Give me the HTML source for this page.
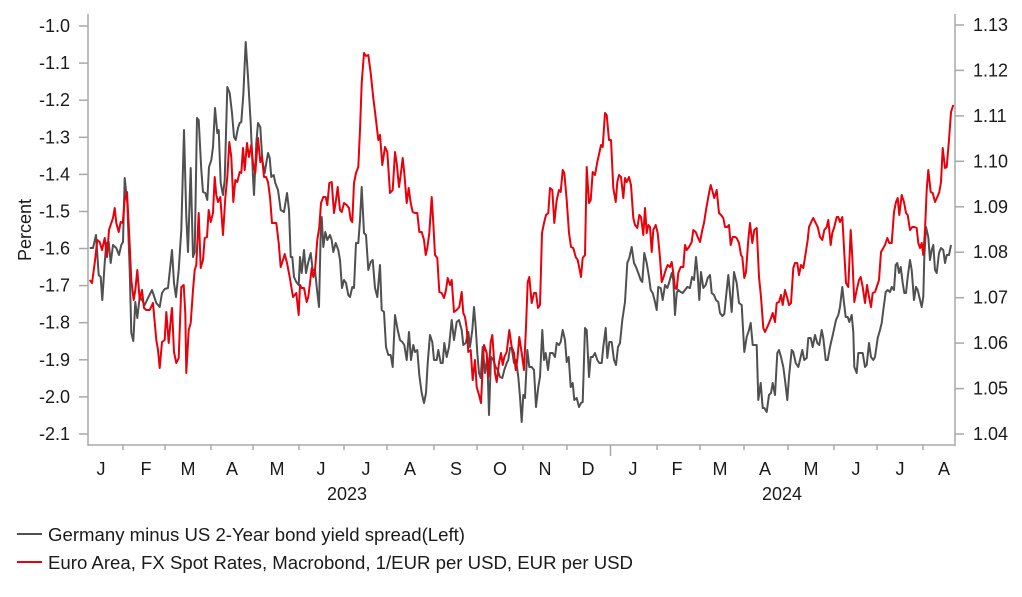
<!DOCTYPE html>
<html><head><meta charset="utf-8"><style>
html,body{margin:0;padding:0;background:#fff;}
svg{display:block;font-family:"Liberation Sans",Arial,sans-serif;}
</style></head><body>
<svg width="1022" height="597" viewBox="0 0 1022 597" xmlns="http://www.w3.org/2000/svg">
<rect width="1022" height="597" fill="#fff"/>
<!-- axes -->
<g stroke="#a8a8a8" stroke-width="1.5" fill="none">
<line x1="88" y1="14" x2="88" y2="446"/>
<line x1="955" y1="14" x2="955" y2="446"/>
<line x1="88" y1="445" x2="955" y2="445"/>
<!-- left ticks -->
<line x1="79" y1="26" x2="88" y2="26"/><line x1="79" y1="63.1" x2="88" y2="63.1"/><line x1="79" y1="100.2" x2="88" y2="100.2"/><line x1="79" y1="137.3" x2="88" y2="137.3"/><line x1="79" y1="174.4" x2="88" y2="174.4"/><line x1="79" y1="211.5" x2="88" y2="211.5"/><line x1="79" y1="248.5" x2="88" y2="248.5"/><line x1="79" y1="285.6" x2="88" y2="285.6"/><line x1="79" y1="322.7" x2="88" y2="322.7"/><line x1="79" y1="359.8" x2="88" y2="359.8"/><line x1="79" y1="396.9" x2="88" y2="396.9"/><line x1="79" y1="434" x2="88" y2="434"/>
<!-- right ticks -->
<line x1="955" y1="25" x2="964" y2="25"/><line x1="955" y1="70.4" x2="964" y2="70.4"/><line x1="955" y1="115.9" x2="964" y2="115.9"/><line x1="955" y1="161.3" x2="964" y2="161.3"/><line x1="955" y1="206.8" x2="964" y2="206.8"/><line x1="955" y1="252.2" x2="964" y2="252.2"/><line x1="955" y1="297.7" x2="964" y2="297.7"/><line x1="955" y1="343.1" x2="964" y2="343.1"/><line x1="955" y1="388.6" x2="964" y2="388.6"/><line x1="955" y1="434" x2="964" y2="434"/>
<!-- x ticks -->
<line x1="123" y1="445" x2="123" y2="450"/><line x1="165" y1="445" x2="165" y2="450"/><line x1="211" y1="445" x2="211" y2="450"/><line x1="253" y1="445" x2="253" y2="450"/><line x1="299" y1="445" x2="299" y2="450"/><line x1="344" y1="445" x2="344" y2="450"/><line x1="387" y1="445" x2="387" y2="450"/><line x1="434" y1="445" x2="434" y2="450"/><line x1="477" y1="445" x2="477" y2="450"/><line x1="523" y1="445" x2="523" y2="450"/><line x1="567" y1="445" x2="567" y2="450"/><line x1="610.5" y1="445" x2="610.5" y2="456"/><line x1="657" y1="445" x2="657" y2="450"/><line x1="700" y1="445" x2="700" y2="450"/><line x1="744" y1="445" x2="744" y2="450"/><line x1="788" y1="445" x2="788" y2="450"/><line x1="834" y1="445" x2="834" y2="450"/><line x1="877" y1="445" x2="877" y2="450"/><line x1="923" y1="445" x2="923" y2="450"/>
</g>
<!-- left labels -->
<g font-size="18" fill="#1a1a1a" text-anchor="end">
<text x="70" y="32">-1.0</text><text x="70" y="69.1">-1.1</text><text x="70" y="106.2">-1.2</text><text x="70" y="143.3">-1.3</text><text x="70" y="180.4">-1.4</text><text x="70" y="217.5">-1.5</text><text x="70" y="254.5">-1.6</text><text x="70" y="291.6">-1.7</text><text x="70" y="328.7">-1.8</text><text x="70" y="365.8">-1.9</text><text x="70" y="402.9">-2.0</text><text x="70" y="440">-2.1</text>
</g>
<!-- right labels -->
<g font-size="18" fill="#1a1a1a">
<text x="973" y="31">1.13</text><text x="973" y="76.4">1.12</text><text x="973" y="121.9">1.11</text><text x="973" y="167.3">1.10</text><text x="973" y="212.8">1.09</text><text x="973" y="258.2">1.08</text><text x="973" y="303.7">1.07</text><text x="973" y="349.1">1.06</text><text x="973" y="394.6">1.05</text><text x="973" y="440">1.04</text>
</g>
<text x="31" y="230" font-size="18" fill="#1a1a1a" text-anchor="middle" transform="rotate(-90 31 230)">Percent</text>
<!-- month labels -->
<g font-size="18" fill="#1a1a1a" text-anchor="middle">
<text x="101" y="475">J</text><text x="146" y="475">F</text><text x="188" y="475">M</text><text x="232" y="475">A</text><text x="277" y="475">M</text><text x="321" y="475">J</text><text x="366" y="475">J</text><text x="410" y="475">A</text><text x="456" y="475">S</text><text x="500" y="475">O</text><text x="545" y="475">N</text><text x="588" y="475">D</text><text x="633" y="475">J</text><text x="677" y="475">F</text><text x="720" y="475">M</text><text x="765" y="475">A</text><text x="811" y="475">M</text><text x="856" y="475">J</text><text x="900" y="475">J</text><text x="944" y="475">A</text>
<text x="347" y="500">2023</text><text x="782" y="500">2024</text>
</g>
<!-- series -->
<polyline fill="none" stroke="#505050" stroke-width="2" stroke-linejoin="round" points="89.7,248 93,248 96,235 98.7,275 100.7,277 102.3,300 104.7,263 106.3,243 108.7,242 110.7,263 113,245 116.3,248 119,255 121.3,245 123,242 124.7,178 127.3,203 129.7,270 131.3,333 133.3,341 135.3,302 137.3,318 139.7,297 142,300 144.7,305 148,298 152,290 156.3,303 159.7,307 162,293 164.7,289 168,288 172,250 174,283 176,297 178.7,270 181.3,230 184,130 186.3,217 188,252 190.7,168 193,257 194.7,252 197,118 198.7,120 201.3,170 203,192 205.3,193 207.3,200 209,167 211.3,160 213,147 215,108 217.3,133 218.7,130 220.7,183 223,195 224.7,180 227.3,87 229.7,93 232,113 234,137 235.7,140 238,128 239.7,123 241.3,122 243.3,95 245.7,42 248,77 250.7,123 253,177 254,195 256.3,143 258,123 260.3,127 262.3,160 264.7,173 266.3,163 268,153 269.7,158 271.3,177 273.7,175 275.3,183 278,190 280.7,210 284,212 287,193 289,210 290.7,257 292.3,257 294,277 296.3,282 298.7,285 300,257 301.7,273 304,250 306,273 308.3,262 310.7,253 312.7,270 315,270 316.7,287 319,307 320.7,233 321.7,217 323.3,247 325.3,232 327.3,240 330,235 331.7,240 333.3,252 335.7,243 338.3,250 340,260 342,288 344,280 346,283 348.3,295 350,297 352.3,287 354,288 356,243 358.3,243 360,220 361.7,187 364,233 366,235 368.3,270 370.7,262 372.7,260 375,288 377.3,297 380,265 381.7,310 384,312 386,347 388.3,355 390.7,355 392.7,367 395,315 397.7,330 400,340 402.3,342 404.3,345 406.7,360 409,332 411,360 413.3,345 415,352 417.3,350 419.3,375 421.7,393 424,403 426,393 427.7,363 430,335 432.3,342 434,360 436.7,360 438.3,350 440.7,363 442.7,363 444.3,343 446.7,357 449,347 451.7,320 454,340 456.7,322 459,320 461.7,330 463.3,345 465.7,343 468.3,332 470,347 472.3,330 474,307 475.7,327 477.3,353 479,373 480.7,378 482.7,347 485,373 487.3,358 489,415 491,357 493.3,360 495.7,367 497.7,370 500,377 502.3,378 504.3,370 506.7,363 508.3,360 510,348 511.7,348 514,363 516,360 518.3,377 520,397 521.7,422 523.3,395 525,398 527.3,350 529.3,367 531.7,367 534,370 536,407 538.3,387 540,377 542.3,330 544,360 545.7,353 548,370 550,353 552.7,353 555,357 556.7,343 559,345 560.7,342 562.7,330 565,340 566.7,362 568.7,357 570.7,387 572.7,383 574.3,400 576.7,398 579,407 581,403 582.7,402 585,328 586.7,330 589,377 590.7,357 592.7,357 595,353 597.3,360 599.3,363 601.7,363 603.3,347 605.7,328 607.3,358 609.3,342 611.7,342 614,360 616,365 618,347 620,343 622.3,320 625,302 627.3,263 629.3,258 631.7,247 634,263 636,267 638.3,273 640.7,280 642.3,282 644.3,253 646.7,263 649,277 650.7,290 652.7,293 655,302 656.7,310 658.3,287 660.7,288 662.7,300 665,285 667.3,288 669.3,282 671.7,273 673.3,280 675,315 676.7,293 678.3,290 680.7,292 682.7,293 685,290 687.3,287 690,288 692,277 694,280 696,257 697.7,275 699.3,300 701,272 703.3,288 705.7,285 707.7,278 710,275 711.7,293 714,295 716,300 718.3,302 720,313 722.3,316 724.3,314 726,297 728.3,275 730,293 731.7,312 734,272 736.7,283 739,303 741.7,305 744.3,352 746.7,337 749,330 750.7,323 752.7,345 755,345 756.7,345 758.3,400 760.7,383 762.7,408 764.3,408 766.7,412 769,395 771,393 772.7,383 775,395 777.3,353 779,350 781,357 783.3,367 785,380 787.3,400 789,377 791.7,350 793.3,352 795.7,363 798.3,367 800,360 802.3,350 804.3,360 806.7,358 808.3,338 810.7,338 812.7,347 815,335 817.3,343 819.3,345 821.7,330 823.3,338 825.7,360 827.7,360 830,347 832.3,337 834.3,328 836,320 838.3,315 840,307 842.3,287 844,303 845.7,317 847.7,317 849.3,322 851.7,315 853.3,332 854.3,367 856.7,373 858.3,353 860.7,353 862.7,353 865,367 866.7,365 869,343 871,357 873.3,360 875,357 877.7,338 880,330 881.7,323 883.3,310 885.7,292 887.7,290 890,292 891.7,287 894,290 895.7,265 897.3,263 899,273 900.7,267 902.7,283 904.3,293 906,293 907.7,277 910,260 911.7,270 914,300 916,287 917.7,290 920,300 921.7,307 923.3,297 924.3,257 926,227 928.3,237 930,260 931.7,250 933.3,245 935,270 936.7,273 939,253 941,248 943.3,250 945,263 946.7,255 949,255 951,245"/>
<polyline fill="none" stroke="#e8000b" stroke-width="2" stroke-linejoin="round" points="89.7,280 92,283 94.7,263 97.3,240 99.7,242 102,250 104.7,238 107,257 109,230 111.3,223 113,218 114.7,208 116.3,223 118.7,232 120.7,222 122.7,223 124.7,200 127,192 129,230 131.3,280 133.7,300 135.3,290 137.3,270 139.7,300 142,290 144,308 146.3,310 149.7,310 153,303 156.3,340 158,350 159.7,368 162,342 164.7,340 166.3,312 168.7,343 170.7,320 172,308 174,352 176.3,363 178.7,358 181.3,287 183.7,285 185.3,313 186.3,373 188.7,330 190.7,323 193,290 194.7,270 196.3,265 198.7,213 200.7,268 203,260 204.7,238 207,237 208.7,210 210.7,222 213,213 214.7,177 216.3,195 218,202 220.3,197 223,235 225.3,198 227.3,177 229.3,142 231.3,157 233.3,202 235.3,180 237.3,182 239.7,172 241.3,173 243,148 244.7,170 247,143 249,157 251.3,145 253,163 255.3,173 258,138 260.3,162 262,157 264,177 266,177 268,182 270,197 272,223 276.3,223 278.7,243 280.7,267 283,260 284.7,254 287,263 289.7,277 293,297 296.3,293 298.7,315 300,285 301.7,288 304,288 306.7,302 308.3,297 310,283 311.7,268 313.3,277 315,270 317.3,240 319.3,227 321,203 323.3,197 325.7,197 327.3,205 329.3,183 331.7,182 334,213 336,200 337.7,187 340,210 341.7,212 344,203 346.7,205 349,208 350.7,220 352.3,222 354,183 356,173 358.3,167 360,130 361.7,83 364,53 366,56 368.3,55 370.7,73 373.3,98 376,120 378.3,140 380,135 382.3,165 385,147 387.3,152 390,193 392.7,190 395,152 396.7,163 399,187 400.7,175 402.7,158 404.3,173 406.7,203 408.7,188 410.7,203 412.7,212 415,213 417.3,213 419.3,232 421.7,232 424,240 425.7,255 427.3,248 429.3,233 431.7,197 433.3,223 435,255 437.3,258 439.3,292 441.7,293 444,298 446,290 447.7,278 450,285 451.7,280 454,312 456.7,310 459.3,307 461.7,292 463.3,313 465,317 466.7,328 468.3,352 470.7,350 472.7,380 475,360 476.7,387 479,395 481,403 482.7,367 484,345 486.7,353 488.3,377 490.7,342 492.3,335 495,373 496.7,382 499,363 501,353 502.7,365 504.3,357 506.7,352 509.3,330 511.7,347 514,353 515.7,370 517.3,360 519.3,337 521.7,353 524,370 526,327 527.7,282 529.3,277 531.7,303 534,293 536,293 538,308 540,305 542,233 544,223 546,215 548.3,213 550,188 552.3,190 554.3,223 556.7,200 559,190 560.7,192 562.7,170 564.3,173 566.7,200 569,233 571,247 573.3,248 575.7,257 577.7,260 579.3,268 581,277 582.7,258 585,255 586.7,167 589,203 590.7,200 592.7,172 595,175 597.3,162 599.3,153 601,145 602.7,147 605,113 606.7,115 609,140 611,140 613.3,188 615.7,202 617.3,182 619,175 621,177 623.3,198 625,178 626.7,182 629,177 631,185 633.3,218 635,225 637.3,228 639.3,215 641,217 643.3,235 645,208 646.7,233 648.3,225 650,227 651.7,252 653.3,230 655.7,225 657.7,233 660,258 661.7,282 663.3,278 665.7,270 667.7,265 670,267 671.7,262 673.3,273 675,288 676.7,289 678.3,273 680.7,267 683.3,267 685,245 686.7,250 689,247 691.7,242 693.3,230 695.7,232 697.7,237 700,242 702.3,230 704,223 706,210 708.3,197 710.7,185 712.7,192 714.3,198 716.7,190 719,213 721,215 723.3,218 725,227 727.3,227 729,225 730.7,245 732.7,237 735,237 736.7,238 739,243 741,255 742.3,257 744.3,278 746,272 748.3,240 750,223 752.3,243 754.3,230 756.7,228 759,277 761,297 763.3,328 765,332 767.3,327 769,323 771,318 772.7,313 775,322 776.7,303 779,302 781,295 782.7,305 785,290 787.3,298 789,305 791,303 793.3,268 795,263 797.3,263 799,275 801,265 803.3,268 805.7,253 807.7,240 809,227 811.7,221 813.3,218 815.7,223 817.7,227 820,237 822.3,240 824.3,230 826.7,227 828.3,220 830.7,245 832.3,233 834.3,227 836.7,217 838.3,217 840,222 842.3,217 844.3,253 846,283 848.3,287 850.7,230 852.3,257 854.3,302 856.7,290 859,280 860.7,277 862.7,287 865,303 867,285 869,297 871,307 872.7,293 875,292 876.7,287 879,280 881,252 883.3,248 885,245 887.3,238 889.3,243 891.7,243 894,212 896,202 897.7,198 899.3,215 901.7,195 904,202 906,213 907.7,215 910,230 912.3,227 914.3,227 916.7,228 918.3,243 920,248 921.7,243 923.3,255 925,230 926.7,190 928.3,170 930.7,192 932.7,193 935,202 937.3,197 939.3,192 941,182 942.7,148 945,168 946.7,167 949,140 951,112 953.3,105"/>
<!-- legend -->
<line x1="17" y1="534" x2="42" y2="534" stroke="#505050" stroke-width="2"/>
<line x1="17" y1="562" x2="42" y2="562" stroke="#e8000b" stroke-width="2"/>
<g font-size="18.5" fill="#1a1a1a">
<text x="48" y="541" textLength="417" lengthAdjust="spacingAndGlyphs">Germany minus US 2-Year bond yield spread(Left)</text>
<text x="48" y="569" textLength="585" lengthAdjust="spacingAndGlyphs">Euro Area, FX Spot Rates, Macrobond, 1/EUR per USD, EUR per USD</text>
</g>
</svg>
</body></html>
